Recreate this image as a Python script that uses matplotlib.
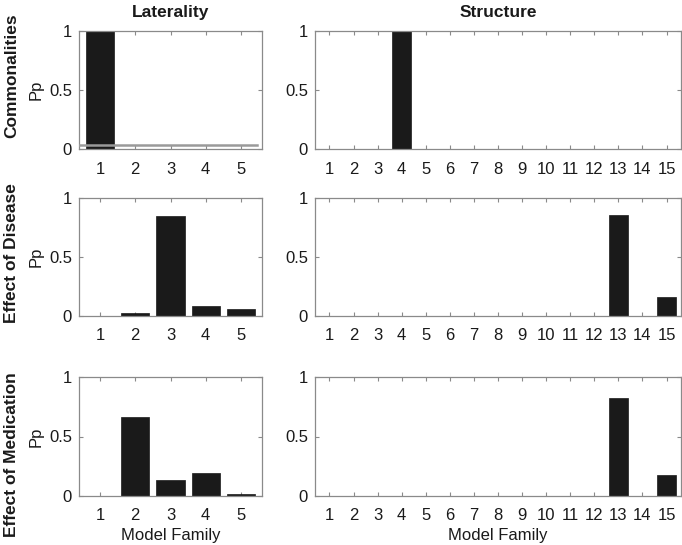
import matplotlib
matplotlib.use("Agg")
import matplotlib.pyplot as plt
import numpy as np

plt.rcParams['font.family'] = ['Liberation Sans', 'DejaVu Sans']

col_titles = ["Laterality", "Structure"]
row_titles = ["Commonalities", "Effect of Disease", "Effect of Medication"]
lat_families = [1, 2, 3, 4, 5]
str_families = list(range(1, 16))

lat_common = [1.0, 0.0, 0.0, 0.0, 0.0]
lat_disease = [0.0, 0.025, 0.847, 0.087, 0.059]
lat_medication = [0.0, 0.661, 0.134, 0.193, 0.014]

str_common = [0, 0, 0, 1.0, 0, 0, 0, 0, 0, 0, 0, 0, 0, 0, 0]
str_disease = [0, 0, 0, 0, 0, 0, 0, 0, 0, 0, 0, 0, 0.853, 0, 0.161]
str_medication = [0, 0, 0, 0, 0, 0, 0, 0, 0, 0, 0, 0, 0.824, 0, 0.176]

threshold_y = 0.03

W, H = 682, 545
fig = plt.figure(figsize=(W / 100, H / 100), dpi=100)

rows_px = [(31, 149), (198, 316), (377, 496)]
cols_px = [(79, 262), (315, 681)]
row_label_y = [76, 253, 455]

def ax_at(l, r, t, b):
    return fig.add_axes([l / W, 1 - b / H, (r - l) / W, (b - t) / H])

spine_c = '#8a8a8a'
text_c = '#1a1a1a'
bar_c = '#1a1a1a'
fs = 12

data = [[lat_common, str_common], [lat_disease, str_disease], [lat_medication, str_medication]]
fams = [lat_families, str_families]

for i, (t, b) in enumerate(rows_px):
    for j, (l, r) in enumerate(cols_px):
        ax = ax_at(l, r, t, b)
        x = fams[j]
        ax.bar(x, data[i][j], width=0.8, color=bar_c, edgecolor=bar_c, linewidth=0.5, zorder=2)
        ax.set_xlim(0.4, len(x) + 0.6)
        ax.set_ylim(0, 1)
        ax.set_xticks(x)
        ax.set_xticklabels([str(v) for v in x], fontsize=fs, color=text_c)
        ax.set_yticks([0, 0.5, 1])
        ax.set_yticklabels(["0", "0.5", "1"], fontsize=fs, color=text_c)
        ax.tick_params(direction='in', length=3, width=0.8, color=spine_c,
                       top=True, right=True)
        ax.tick_params(axis='x', pad=9)
        ax.tick_params(axis='y', pad=5)
        for s in ax.spines.values():
            s.set_color(spine_c)
            s.set_linewidth(0.9)
        if j == 0:
            ax.set_ylabel("Pp", fontsize=fs, color=text_c)
            ax.yaxis.set_label_coords((44 - l) / (r - l), 0.5)
            if i == 0:
                ax.plot([0.4, 5.45], [threshold_y, threshold_y], color='#9a9a9a', lw=1.8, zorder=3)
        if i == 0:
            ax.set_title(col_titles[j], fontsize=fs + 0.5, fontweight='bold', color=text_c, pad=10)
        if i == 2:
            ax.set_xlabel("Model Family", fontsize=fs, color=text_c, labelpad=3)
    fig.text(12 / W, 1 - row_label_y[i] / H, row_titles[i], rotation=90, ha='center', va='center',
             fontsize=fs + 0.5, fontweight='bold', color=text_c)

fig.savefig("out.png", dpi=100, facecolor='white')
